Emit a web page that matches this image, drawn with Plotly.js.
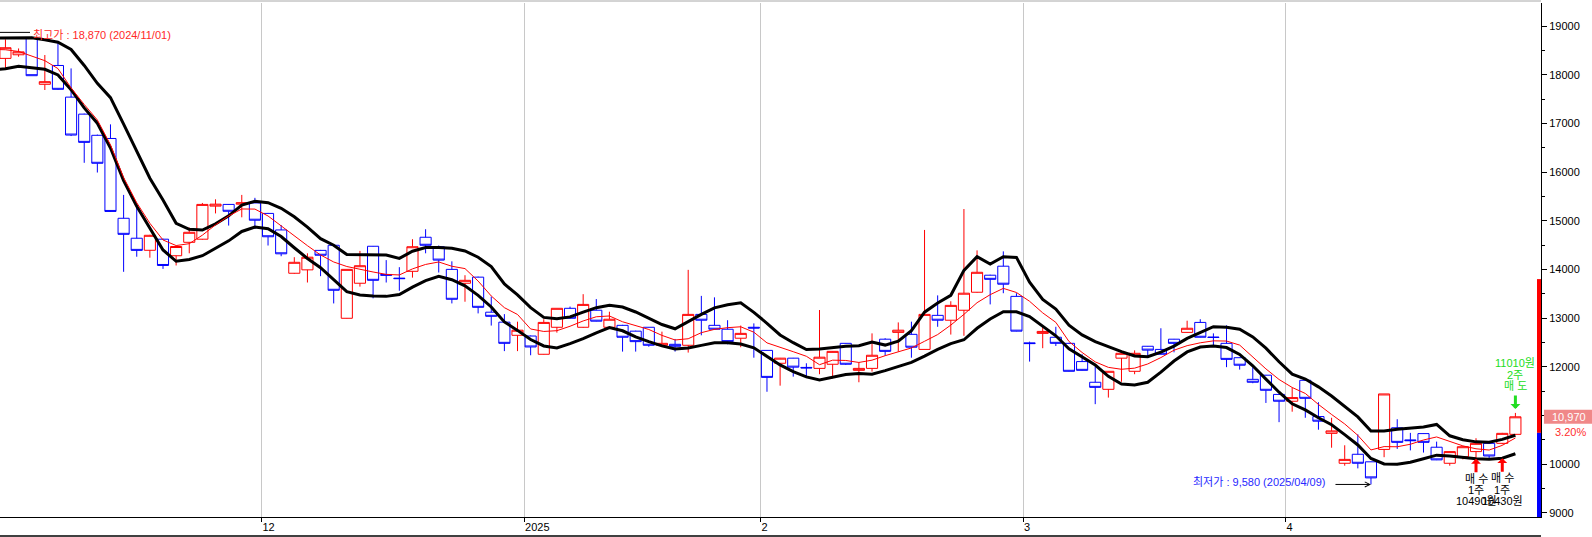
<!DOCTYPE html>
<html><head><meta charset="utf-8">
<script src="https://cdn.plot.ly/plotly-3.0.1.min.js"></script>
<style>html,body{margin:0;padding:0;background:#fff;}#chart{width:1592px;height:537px;}</style>
</head><body><div id="chart"></div>
<script>
const dates = [
 '2024-11-01','2024-11-04','2024-11-05','2024-11-06','2024-11-07','2024-11-08','2024-11-11','2024-11-12','2024-11-13','2024-11-14','2024-11-15','2024-11-18','2024-11-19','2024-11-20','2024-11-21','2024-11-22','2024-11-25','2024-11-26','2024-11-27','2024-11-28','2024-11-29',
 '2024-12-02','2024-12-03','2024-12-04','2024-12-05','2024-12-06','2024-12-09','2024-12-10','2024-12-11','2024-12-12','2024-12-13','2024-12-16','2024-12-17','2024-12-18','2024-12-19','2024-12-20','2024-12-23','2024-12-24','2024-12-26','2024-12-27','2024-12-30',
 '2025-01-02','2025-01-03','2025-01-06','2025-01-07','2025-01-08','2025-01-09','2025-01-10','2025-01-13','2025-01-14','2025-01-15','2025-01-16','2025-01-17','2025-01-20','2025-01-21','2025-01-22','2025-01-23','2025-01-24','2025-01-31',
 '2025-02-03','2025-02-04','2025-02-05','2025-02-06','2025-02-07','2025-02-10','2025-02-11','2025-02-12','2025-02-13','2025-02-14','2025-02-17','2025-02-18','2025-02-19','2025-02-20','2025-02-21','2025-02-24','2025-02-25','2025-02-26','2025-02-27','2025-02-28',
 '2025-03-04','2025-03-05','2025-03-06','2025-03-07','2025-03-10','2025-03-11','2025-03-12','2025-03-13','2025-03-14','2025-03-17','2025-03-18','2025-03-19','2025-03-20','2025-03-21','2025-03-24','2025-03-25','2025-03-26','2025-03-27','2025-03-28','2025-03-31',
 '2025-04-01','2025-04-02','2025-04-03','2025-04-04','2025-04-07','2025-04-08','2025-04-09','2025-04-10','2025-04-11','2025-04-14','2025-04-15','2025-04-16','2025-04-17','2025-04-18','2025-04-21','2025-04-22','2025-04-23','2025-04-24'];

const openPrices = [
 18500,18336,18410,18760,17803,18190,17540,17190,16755,16690,15050,14640,14392,14620,14280,14556,14620,15300,15335,15340,15365,
 15150,14810,13920,13990,14390,14495,12995,13715,14475,13895,13820,13960,14660,14465,14000,13715,13840,13120,12915,12645,
 12630,12255,12810,13200,12810,13160,12810,12850,12730,12810,12440,12460,12440,13075,12850,12770,12585,12810,
 12335,12070,12175,11985,11965,12050,12480,11925,11965,12565,12705,12665,12355,13055,12955,13160,13530,13880,14065,13445,
 12490,12685,12605,12480,12105,11680,11535,12175,11905,12420,12355,12565,12705,12910,12610,12480,12185,11740,11825,11430,
 11290,11720,10975,10630,10015,10200,10045,10300,10745,10495,10625,10345,10015,10150,10255,10425,10425,10610];

const highPrices = [
 18870,18727,18540,18780,18405,18680,18130,17200,16770,16980,15530,15340,14710,14630,14470,14860,15365,15440,15340,15530,15470,
 15160,14910,14250,14330,14400,14500,14000,14380,14480,14190,14045,14620,14825,14490,14165,13880,13850,13440,13080,12925,
 12640,12975,13200,13235,13490,13390,13130,12860,12740,12815,12720,12570,13990,13455,13425,12955,12845,12890,
 12340,12180,12180,12070,13165,12320,12485,12090,12685,12585,12910,12925,14810,13465,13345,15240,14390,13890,14370,13510,
 12515,12835,12820,12490,12255,12000,11910,12280,12335,12425,12790,12570,12945,12975,12685,12850,12190,11990,11830,11440,
 11570,11725,11270,10950,10385,10610,10050,11440,10920,10640,10630,10460,10260,10360,10530,10430,10640,11050];

const lowPrices = [
 18300,18131,18370,17980,17686,17690,16740,16190,15990,15180,13950,14260,14240,14010,14080,14330,14610,15150,14900,15070,14830,
 14490,14270,13910,13730,13860,13300,12990,13645,13405,13730,13560,13830,14330,13935,13300,13335,13095,12845,12320,12320,
 12235,12250,12700,12990,12800,12930,12800,12310,12310,12410,12435,12310,12290,12645,12765,12460,12400,12185,
 11485,11610,11795,11775,11845,11760,12035,11680,11900,12225,12310,12185,12355,12820,12660,12635,13520,13280,13510,12725,
 12105,12380,12425,11900,11920,11230,11365,11690,11845,12200,12250,12295,12700,12600,12410,11990,11940,11660,11255,10860,
 11075,10950,10705,10335,9965,9910,9580,10140,10310,10280,10235,10080,9965,10095,10115,10115,10405,10600];

const closePrices = [
 18600,18555,18470,17980,17857,17700,16760,16610,16180,15190,14720,14390,14700,14080,14470,14762,15335,15340,15194,15370,15010,
 14670,14320,14145,14250,14290,13570,14000,14075,13775,13880,13810,14465,14495,14190,13385,13775,13220,13035,12480,12750,
 12405,12910,13200,12995,13280,12935,12975,12605,12515,12440,12480,12420,13075,12955,12770,12515,12685,12795,
 11780,12175,11990,11975,12195,12315,12050,11965,12235,12315,12750,12400,13075,12955,13260,13510,13940,13795,13695,12730,
 12475,12725,12480,11905,11925,11575,11905,12275,12275,12340,12255,12480,12790,12605,12600,12150,12030,11680,11515,11290,
 11365,11350,10880,10680,10095,10015,9715,11440,10445,10480,10445,10085,10255,10355,10425,10165,10630,10970];

const upperBand = [
 18750,18751,18755,18761,18720,18669,18519,18190,17824,17528,16986,16429,15872,15426,14947,14822,14809,14935,15099,15323,15399,
 15370,15255,15081,14867,14631,14497,14304,14306,14306,14296,14226,14372,14448,14450,14432,14378,14249,14057,13700,13474,
 13213,13013,12983,13024,13120,13213,13262,13227,13124,12997,12867,12779,12935,13075,13209,13274,13313,13116,
 12892,12652,12493,12354,12364,12399,12420,12430,12504,12444,12526,12740,13120,13309,13467,13979,14261,14111,14261,14246,
 13735,13381,13184,12853,12654,12514,12405,12309,12220,12206,12298,12423,12582,12695,12822,12812,12769,12613,12380,12101,
 11846,11747,11585,11398,11187,10967,10679,10679,10714,10730,10761,10813,10580,10498,10455,10447,10506,10591];

const lowerBand = [
 18100,18122,18176,18149,18112,17995,17693,17319,17004,16495,15823,15298,14844,14398,14166,14203,14281,14429,14586,14779,14871,
 14834,14674,14444,14224,14035,13786,13542,13474,13451,13445,13482,13636,13768,13858,13788,13661,13465,13227,12919,12746,
 12559,12426,12385,12475,12576,12697,12804,12738,12611,12516,12428,12364,12383,12438,12491,12491,12467,12387,
 12216,12037,11897,11791,11729,11788,11840,11858,11846,11920,12002,12089,12216,12354,12473,12553,12789,12980,13130,13128,
 13032,12828,12635,12368,12198,12033,11803,11645,11624,11680,11889,12117,12304,12405,12426,12393,12253,12019,11745,11476,
 11238,11111,10950,10806,10603,10391,10114,10001,9995,10038,10108,10182,10165,10130,10108,10099,10120,10210];

const ma5 = [
 18520,18513,18478,18381,18289,18126,17728,17389,17070,16558,15886,15368,14947,14604,14489,14528,14703,14914,15097,15241,15239,
 15097,14892,14686,14487,14296,14152,14059,13998,13946,13897,13885,14010,14101,14152,14064,14016,13760,13453,13213,13073,
 12775,12724,12740,12831,12940,13026,13042,12923,12849,12765,12643,12549,12574,12699,12767,12802,12820,12709,
 12489,12403,12308,12214,12041,12134,12128,12087,12134,12226,12298,12385,12522,12660,12855,13075,13315,13480,13609,13525,
 13344,13106,12911,12518,12292,12099,11986,11947,11970,12056,12187,12339,12432,12491,12531,12527,12444,12193,11955,11737,
 11573,11450,11224,11018,10823,10589,10289,10358,10354,10406,10494,10556,10463,10373,10313,10287,10383,10535];

const tradeDates = ['2025-04-21','2025-04-23','2025-04-24'];
const tradeSides = ['매수','매수','매도'];
const tradeQty = [1,1,2];
const tradePrices = [10490,10430,11010];

const priceBarTop = 13800;
const priceBarSplit = 10640;
const yRange = [8911, 19474];

const FONT = 'Liberation Sans, Arial, Noto Sans CJK KR, sans-serif';
const fmt = n => n.toLocaleString('en-US');
const xIdx = dates.map((d, i) => i);

const tickVals = [], tickText = [];
for (let i = 1; i < dates.length; i++) {
  const m = dates[i].slice(5, 7), pm = dates[i - 1].slice(5, 7);
  if (m !== pm) {
    tickVals.push(i - 0.5);
    tickText.push(m === '01' ? dates[i].slice(0, 4) : String(parseInt(m, 10)));
  }
}

const maxHigh = Math.max(...highPrices);
const maxIdx = highPrices.indexOf(maxHigh);
const minLow = Math.min(...lowPrices);
const minIdx = lowPrices.indexOf(minLow);
const last = closePrices.length - 1;
const lastClose = closePrices[last];
const pct = ((lastClose / closePrices[last - 1] - 1) * 100).toFixed(2) + '%';

const traces = [
  {
    type: 'candlestick', x: xIdx, open: openPrices, high: highPrices, low: lowPrices, close: closePrices,
    increasing: { line: { color: '#FF0000', width: 1 }, fillcolor: '#FFFFFF' },
    decreasing: { line: { color: '#0000FF', width: 1 }, fillcolor: '#FFFFFF' },
    whiskerwidth: 0, hoverinfo: 'skip'
  },
  { type: 'scatter', mode: 'lines', x: xIdx, y: upperBand, line: { color: '#000000', width: 3 }, hoverinfo: 'skip' },
  { type: 'scatter', mode: 'lines', x: xIdx, y: lowerBand, line: { color: '#000000', width: 3 }, hoverinfo: 'skip' },
  { type: 'scatter', mode: 'lines', x: xIdx, y: ma5, line: { color: '#FF0000', width: 1 }, hoverinfo: 'skip' }
];

const W = 1541, H = 514;
const shapes = [
  { type: 'line', xref: 'paper', yref: 'paper', x0: 0, x1: 1, y0: 1 + 2 / H, y1: 1 + 2 / H, line: { color: '#A8A8A8', width: 1 } },
  { type: 'line', xref: 'paper', yref: 'paper', x0: 0, x1: 1, y0: -19 / H, y1: -19 / H, line: { color: '#000000', width: 1.5 } },
  { type: 'line', xref: 'paper', yref: 'y', x0: 0, x1: 30 / W, y0: maxHigh, y1: maxHigh, line: { color: '#000000', width: 1 } },
  { type: 'rect', xref: 'paper', yref: 'y', x0: 1 - 4 / W, x1: 1, y0: priceBarSplit, y1: priceBarTop, fillcolor: '#FF0000', line: { width: 0 } },
  { type: 'rect', xref: 'paper', yref: 'y', x0: 1 - 4 / W, x1: 1, y0: yRange[0], y1: priceBarSplit, fillcolor: '#0000FF', line: { width: 0 } },
  { type: 'rect', xref: 'paper', yref: 'y', ysizemode: 'pixel', yanchor: lastClose, y0: -7, y1: 7,
    x0: 1 + 3 / W, x1: 1 + 51 / W, fillcolor: '#F08888', line: { width: 0 } }
];

const annotations = [
  { xref: 'paper', yref: 'y', x: 1 + 47 / W, y: lastClose, xanchor: 'right', yanchor: 'middle', showarrow: false,
    text: fmt(lastClose), font: { family: FONT, size: 11, color: '#FFFFFF' } },
  { xref: 'paper', yref: 'y', x: 1 + 47 / W, y: lastClose, yshift: -15, xanchor: 'right', yanchor: 'middle', showarrow: false,
    text: pct, font: { family: FONT, size: 11, color: '#FF3030' } },
  { xref: 'paper', yref: 'y', x: 31 / W, y: maxHigh, yshift: -3, xanchor: 'left', yanchor: 'middle', showarrow: false,
    text: '최고가 : ' + fmt(maxHigh) + ' (' + dates[maxIdx].replace(/-/g, '/') + ')', font: { family: FONT, size: 11, color: '#FF2828' } },
  { x: minIdx, y: minLow, ax: -37, ay: 0, text: '', showarrow: true, arrowhead: 5, arrowsize: 1, arrowwidth: 1, arrowcolor: '#000000' },
  { x: minIdx, y: minLow, xshift: -43, yshift: 2, xanchor: 'right', yanchor: 'middle', showarrow: false,
    text: '최저가 : ' + fmt(minLow) + ' (' + dates[minIdx].replace(/-/g, '/') + ')', font: { family: FONT, size: 11, color: '#2828FF' } }
];

tradeDates.forEach((d, k) => {
  const i = dates.indexOf(d);
  const lines = [tradeSides[k].split('').join(' '), tradeQty[k] + '주', tradePrices[k] + '원'];
  if (tradeSides[k] === '매수') {
    const y = lowerBand[i];
    annotations.push({ x: i, y: y, ax: 0, ay: 15, text: '', showarrow: true, arrowhead: 1, arrowsize: 0.55, arrowwidth: 3, arrowcolor: '#FF0000' });
    [20, 31.5, 42.5].forEach((off, j) => annotations.push({ x: i, y: y, yshift: -off, showarrow: false, xanchor: 'center', yanchor: 'middle',
      text: lines[j], font: { family: FONT, size: 11, color: '#000000' } }));
  } else {
    const y = highPrices[i];
    annotations.push({ x: i, y: y, yshift: 4, ax: 0, ay: -15, text: '', showarrow: true, arrowhead: 1, arrowsize: 0.55, arrowwidth: 3, arrowcolor: '#22DD22' });
    [27, 38, 49.5].forEach((off, j) => annotations.push({ x: i, y: y, yshift: off, showarrow: false, xanchor: 'center', yanchor: 'middle',
      text: lines[j], font: { family: FONT, size: 11, color: '#22DD22' } }));
  }
});

const layout = {
  width: 1592, height: 537,
  margin: { l: 0, r: 51, t: 3, b: 20, pad: 0 },
  paper_bgcolor: '#FFFFFF', plot_bgcolor: '#FFFFFF',
  showlegend: false, boxgap: 0.08, boxgroupgap: 0.08,
  font: { family: FONT, size: 11, color: '#000' },
  xaxis: {
    type: 'linear', range: [0.586, 117.95], tickmode: 'array', tickvals: tickVals, ticktext: tickText,
    showgrid: true, gridcolor: '#C8C8C8', gridwidth: 1, ticks: 'outside', ticklen: 4, tickcolor: '#000',
    showline: true, linecolor: '#000', linewidth: 1, zeroline: false, ticklabelposition: 'outside right',
    tickfont: { family: FONT, size: 11, color: '#000' }, rangeslider: { visible: false }, fixedrange: true
  },
  yaxis: {
    side: 'right', range: yRange, dtick: 1000, tick0: 0, tickformat: 'd',
    ticks: 'outside', ticklen: 5, tickcolor: '#000', showline: true, linecolor: '#000', linewidth: 1,
    showgrid: false, zeroline: false, tickfont: { family: FONT, size: 11, color: '#000' },
    minor: { dtick: 500, tick0: 0, ticks: 'outside', ticklen: 3, tickcolor: '#000', showgrid: false }, fixedrange: true
  },
  shapes: shapes, annotations: annotations
};

Plotly.newPlot('chart', traces, layout, { staticPlot: true, displayModeBar: false });
</script></body></html>
